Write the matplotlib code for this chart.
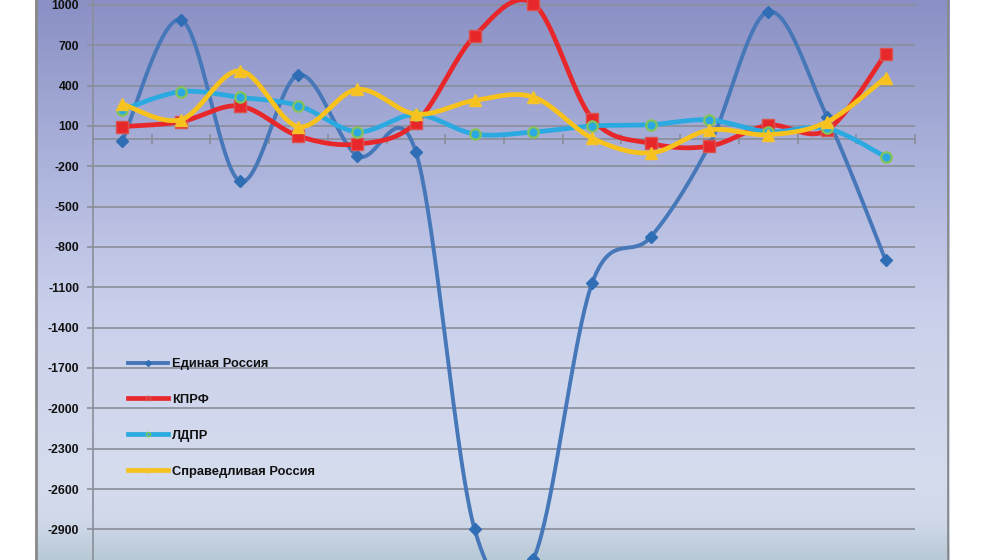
import numpy as np
import matplotlib
matplotlib.use("Agg")
import matplotlib.pyplot as plt
from matplotlib.colors import LinearSegmentedColormap
from matplotlib.lines import Line2D

# ---- data ----
categories = list(range(1, 15))
edinaya_rossiya = [-10, 890, -310, 480, -120, -95, -2900, -3120, -1070, -725, -40, 950, 170, -900]
kprf = [95, 132, 248, 25, -35, 123, 770, 1010, 155, -30, -50, 105, 70, 635]
ldpr = [220, 355, 313, 251, 57, 185, 40, 55, 100, 110, 145, 57, 82, -130]
sr = [263, 147, 510, 95, 372, 188, 290, 315, 10, -100, 70, 35, 130, 460]
series_names = ["Единая Россия", "КПРФ", "ЛДПР", "Справедливая Россия"]
yticks = list(range(1000, -3000, -300))

plt.rcParams['font.family'] = ['Liberation Sans', 'DejaVu Sans']

W, H = 1000, 560
fig = plt.figure(figsize=(W / 100, H / 100), dpi=100)
fig.patch.set_facecolor('white')

# background gradient panel
bg = fig.add_axes([35 / W, 0, (949 - 35) / W, 1], zorder=0)
cmap = LinearSegmentedColormap.from_list('bg', [
    (0.0, '#8a90c4'), (0.3, '#adb4dc'), (0.55, '#c9d0eb'),
    (0.85, '#d5dcee'), (0.93, '#d0d9ea'), (1.0, '#b9c9d6')])
grad = np.linspace(0, 1, 256).reshape(-1, 1)
bg.imshow(grad, aspect='auto', cmap=cmap, extent=[0, 1, 1, 0])
bg.set_xlim(0, 1); bg.set_ylim(1, 0)
bg.axis('off')
bg.axvline(0.001, color='#8a8a8a', lw=2)
bg.axvline(0.999, color='#8a8a8a', lw=2)

ax = fig.add_axes([93 / W, 0, (915 - 93) / W, 1], zorder=1)
ax.patch.set_alpha(0)
ax.set_xlim(0, 14)
ax.set_ylim(-3128, 1037)

for t in yticks:
    ax.axhline(t, color='#8a8e99', lw=1.2, zorder=1)

for s in ['top', 'right']:
    ax.spines[s].set_visible(False)
ax.spines['left'].set_color('#8a8e99')
ax.spines['left'].set_linewidth(1.2)
ax.spines['bottom'].set_position(('data', 0))
ax.spines['bottom'].set_color('#8a8e99')
ax.spines['bottom'].set_linewidth(1.2)
ax.set_xticks(range(0, 15))
ax.set_xticklabels([])
ax.tick_params(axis='x', direction='inout', length=7, color='#8a8e99', width=1.2)
ax.set_yticks(yticks)
ax.set_yticklabels([str(t) for t in yticks], fontsize=8.8, fontweight='bold', color='#111111')
ax.tick_params(axis='y', direction='out', length=4, color='#8a8e99', width=1.2, pad=6)


def smooth(xs, ys, n=40):
    xs = np.asarray(xs, float); ys = np.asarray(ys, float)
    px = np.concatenate([[xs[0]], xs, [xs[-1]]])
    py = np.concatenate([[ys[0]], ys, [ys[-1]]])
    ox, oy = [], []
    t = np.linspace(0, 1, n)
    for i in range(1, len(px) - 2):
        p0x, p1x, p2x, p3x = px[i - 1], px[i], px[i + 1], px[i + 2]
        p0y, p1y, p2y, p3y = py[i - 1], py[i], py[i + 1], py[i + 2]
        c1x = p1x + (p2x - p0x) / 6; c1y = p1y + (p2y - p0y) / 6
        c2x = p2x - (p3x - p1x) / 6; c2y = p2y - (p3y - p1y) / 6
        bx = (1 - t) ** 3 * p1x + 3 * (1 - t) ** 2 * t * c1x + 3 * (1 - t) * t ** 2 * c2x + t ** 3 * p2x
        by = (1 - t) ** 3 * p1y + 3 * (1 - t) ** 2 * t * c1y + 3 * (1 - t) * t ** 2 * c2y + t ** 3 * p2y
        ox.extend(bx); oy.extend(by)
    return np.array(ox), np.array(oy)


xpos = np.arange(len(categories)) + 0.5
styles = [
    dict(data=edinaya_rossiya, color='#4677b8', lw=2.8, marker='D', ms=6, mfc='#2f6db5', mec='#2f6db5', mew=1),
    dict(data=kprf, color='#e8272b', lw=3.4, marker='s', ms=8, mfc='#e8272b', mec='#d9534f', mew=1),
    dict(data=ldpr, color='#2aaae0', lw=3.4, marker='o', ms=7.5, mfc='#2aaae0', mec='#86c35a', mew=1.6),
    dict(data=sr, color='#f8c21c', lw=3.4, marker='^', ms=9, mfc='#f8c21c', mec='#f4c430', mew=1),
]
handles = []
for i, st in enumerate(styles):
    sx, sy = smooth(xpos, st['data'])
    ax.plot(sx, sy, color=st['color'], lw=st['lw'], zorder=3 + i, solid_capstyle='round')
    ax.plot(xpos, st['data'], ls='none', marker=st['marker'], ms=st['ms'],
            mfc=st['mfc'], mec=st['mec'], mew=st['mew'], zorder=3 + i)
    handles.append(Line2D([], [], color=st['color'], lw=st['lw'], marker=st['marker'],
                          ms=3, mfc=st['mfc'], mec=st['mec']))

leg = fig.legend(handles, series_names, loc='upper left',
                 bbox_to_anchor=(128 / W, 1 - 358 / H), bbox_transform=fig.transFigure,
                 frameon=False, handlelength=3.1, handletextpad=0.3,
                 labelspacing=1.85, borderpad=0, borderaxespad=0,
                 prop={'weight': 'bold', 'size': 9.3})
for t in leg.get_texts():
    t.set_color('#111111')

fig.savefig('out.png', dpi=100)
